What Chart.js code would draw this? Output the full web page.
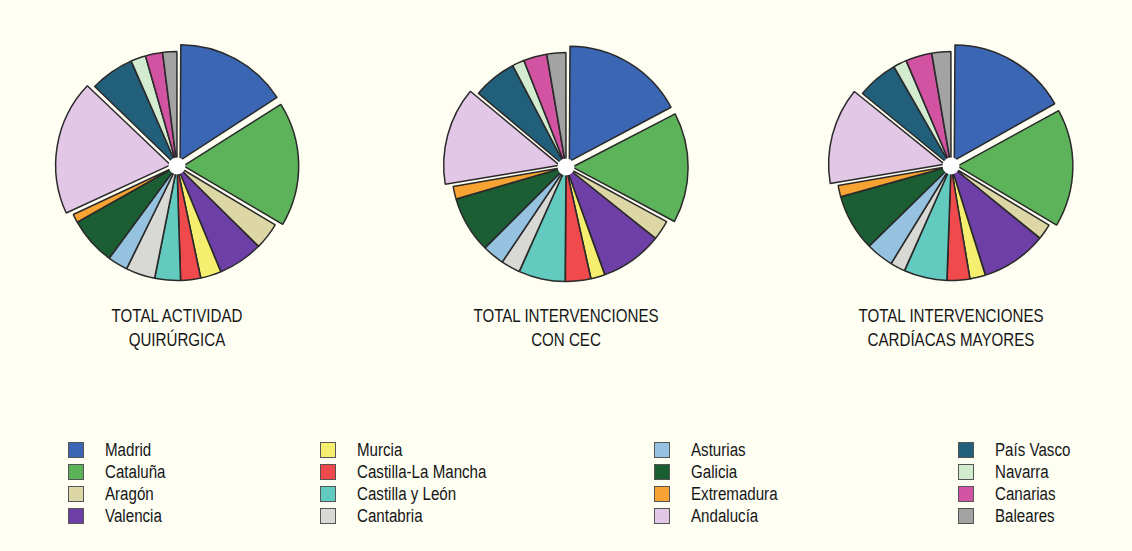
<!DOCTYPE html>
<html>
<head>
<meta charset="utf-8">
<script src="https://cdn.jsdelivr.net/npm/chart.js@4.4.1/dist/chart.umd.min.js"></script>
<style>
  body { margin: 0; background: #fefef3; }
  #page { position: relative; width: 1132px; height: 551px; overflow: hidden;
          font-family: "Liberation Sans", Arial, sans-serif; color: #161616; }
  .pie { position: absolute; width: 270px; height: 270px; }
  /* condensed look for the captions */
  .title { position: absolute; width: 300px; text-align: center; font-size: 18px; line-height: 24px;
           transform: scaleX(0.84); transform-origin: 50% 0; }
  .item { position: absolute; height: 22px; line-height: 22px; font-size: 18px; white-space: nowrap; }
  .item span.box { position: absolute; left: 0; top: 3px; width: 14px; height: 14px;
                   border: 1.5px solid #555; }
  .item span.txt { position: absolute; left: 37px; top: 0; display: inline-block;
                   transform: scaleX(0.84); transform-origin: 0 0; }
</style>
</head>
<body>
<div id="page"></div>
<script>
// Comunidades autónomas, in drawing order (clockwise from 12 o'clock)
const regions = ['Madrid', 'Cataluña', 'Aragón', 'Valencia', 'Murcia', 'Castilla-La Mancha',
  'Castilla y León', 'Cantabria', 'Asturias', 'Galicia', 'Extremadura', 'Andalucía',
  'País Vasco', 'Navarra', 'Canarias', 'Baleares'];

const regionColors = ['#3b66b3', '#5db35a', '#dcd7a4', '#6e3fa6', '#f6ee6e', '#f04a4c',
  '#62cabe', '#d8d8d4', '#94c2df', '#1b5e33', '#f6a333', '#e2c8e6',
  '#225f7a', '#d3ebcf', '#d153a2', '#a3a3a3'];

// share of each region (%) for every chart
const actividadQuirurgica = [15.8, 17.5, 3.8, 6.3, 2.9, 2.8, 3.6, 4.1, 2.8, 6.7, 1.2, 19.0, 6.2, 2.1, 2.4, 2.0];
const intervencionesCEC = [17.3, 15.6, 2.8, 8.8, 2.0, 3.6, 6.6, 2.7, 3.1, 8.0, 1.8, 13.8, 6.2, 1.7, 3.3, 2.7];
const cardiacasMayores = [16.9, 16.7, 2.2, 9.3, 2.2, 3.2, 6.1, 2.1, 3.9, 8.0, 1.6, 13.6, 5.8, 1.9, 3.7, 2.7];

const titles = [
  ['TOTAL ACTIVIDAD', 'QUIRÚRGICA'],
  ['TOTAL INTERVENCIONES', 'CON CEC'],
  ['TOTAL INTERVENCIONES', 'CARDÍACAS MAYORES']
];

// slices pulled out of each pie
const exploded = ['Madrid', 'Cataluña', 'Andalucía'];

// small white disc over the middle of the pie
const centerHole = {
  id: 'centerHole',
  afterDatasetsDraw(chart) {
    const arc = chart.getDatasetMeta(0).data[0];
    const ctx = chart.ctx;
    ctx.save();
    ctx.fillStyle = '#ffffff';
    ctx.beginPath();
    ctx.arc(arc.x, arc.y, 8.5, 0, Math.PI * 2);
    ctx.fill();
    ctx.restore();
  }
};

const page = document.getElementById('page');

function addPie(values, cx, cy, title) {
  const wrap = document.createElement('div');
  wrap.className = 'pie';
  wrap.style.left = (cx - 135) + 'px';
  wrap.style.top = (cy - 135) + 'px';
  const canvas = document.createElement('canvas');
  canvas.width = 270;
  canvas.height = 270;
  wrap.appendChild(canvas);
  page.appendChild(wrap);

  new Chart(canvas.getContext('2d'), {
    type: 'pie',
    data: {
      labels: regions,
      datasets: [{
        data: values,
        backgroundColor: regionColors,
        borderColor: '#2a2a2a',
        borderWidth: 1.5,
        spacing: 1,
        offset: regions.map(r => exploded.includes(r) ? 26 : 0)
      }]
    },
    options: {
      responsive: false,
      animation: false,
      radius: 114,
      layout: { padding: 0 },
      plugins: { legend: { display: false }, tooltip: { enabled: false } }
    },
    plugins: [centerHole]
  });

  const t = document.createElement('div');
  t.className = 'title';
  t.style.left = (cx - 150) + 'px';
  t.style.top = '304px';
  t.innerHTML = title.join('<br>');
  page.appendChild(t);
}

addPie(actividadQuirurgica, 177, 166, titles[0]);
addPie(intervencionesCEC, 566, 167, titles[1]);
addPie(cardiacasMayores, 951, 166, titles[2]);

// legend: four columns of four
const legendX = [68, 320, 654, 958];
regions.forEach((name, i) => {
  const col = Math.floor(i / 4), row = i % 4;
  const item = document.createElement('div');
  item.className = 'item';
  item.style.left = legendX[col] + 'px';
  item.style.top = (439 + row * 22) + 'px';
  item.innerHTML = '<span class="box" style="background:' + regionColors[i] + '"></span>' +
                   '<span class="txt">' + name + '</span>';
  page.appendChild(item);
});
</script>
</body>
</html>
